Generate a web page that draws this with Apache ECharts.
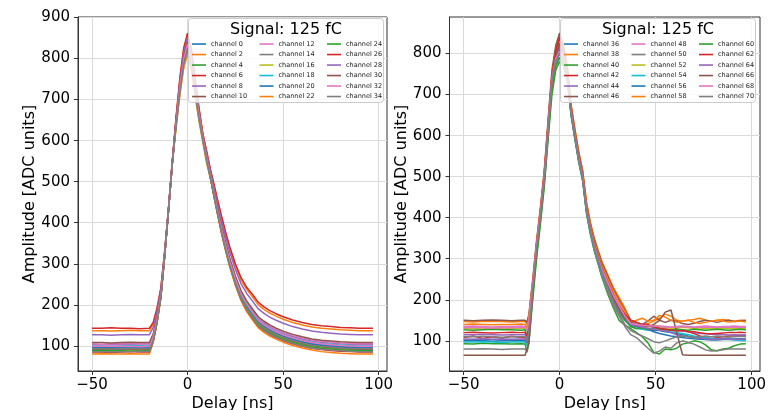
<!DOCTYPE html>
<html><head><meta charset="utf-8">
<script src="https://cdn.jsdelivr.net/npm/echarts@6/dist/echarts.min.js"></script>
<style>html,body{margin:0;padding:0;background:#fff}#c{width:775px;height:410px}</style>
</head><body><div id="c"></div>
<script>
// ---- data ----
const leftDelays = [-50,-45,-40,-35,-30,-25,-20,-18,-16,-14,-12,-10,-8,-6,-4,-2,0,2,4,6,8,10,12,14,16,18,20,22,25,28,31,34,37,40,43,46,50,55,60,65,70,75,80,85,90,97];
const rightDelays = [-50,-45,-40,-35,-30,-25,-20,-18,-17,-16,-14,-12,-10,-8,-6,-4,-2,0,2,4,6,8,10,12,14,16,18,20,22,25,28,31,34,37,40,43,46,49,52,55,58,61,64,67,70,73,76,79,82,85,88,91,94,97];
const xTicks = [-50,0,50,100];
const leftYTicks = [100,200,300,400,500,600,700,800,900];
const rightYTicks = [100,200,300,400,500,600,700,800];
const legendTitle = 'Signal: 125 fC';

const ch0 = [95,96,95,95,94,95,95,119,163,222,321,430,545,650,740,810,845,805,735,668,610,559,512,465,421,378,340,304,259,222,197,177,158,147,138,131,123,115,109,104,101,99,97,96,95,95];
const ch2 = [80,81,80,80,81,80,80,108,154,217,318,429,544,632,712,777,810,772,707,647,596,544,506,458,412,368,329,293,247,210,183,163,144,133,124,117,109,101,95,90,86,84,82,81,80,80];
const ch4 = [90,90,91,90,90,89,90,115,160,220,320,430,545,645,732,800,835,795,727,662,606,555,510,463,418,375,336,300,255,218,192,172,153,142,133,126,118,110,104,99,96,94,92,91,90,90];
const ch6 = [85,85,84,85,86,85,85,111,157,218,319,430,544,652,744,815,850,810,739,671,612,558,508,460,415,371,332,296,251,213,187,167,148,137,128,121,113,105,99,94,91,89,87,86,85,85];
const ch8 = [103,103,104,103,103,102,103,125,168,225,323,431,546,648,736,805,840,800,731,665,608,559,515,470,426,384,346,310,266,230,204,185,166,155,146,139,131,123,117,112,109,107,105,104,103,103];
const ch10 = [92,92,93,92,91,92,92,117,161,221,320,430,545,642,728,796,830,791,723,659,604,554,511,464,419,376,338,302,257,220,194,174,155,144,135,128,120,112,106,101,98,96,94,93,92,92];
const ch12 = [105,104,105,106,105,105,105,127,169,226,323,432,547,650,740,810,845,805,735,668,610,561,515,471,427,386,347,312,268,232,206,187,168,157,148,141,133,125,119,114,111,109,107,106,105,105];
const ch14 = [93,93,92,93,93,94,93,117,162,221,321,430,545,640,724,791,825,786,719,656,602,553,511,465,420,377,338,302,258,221,195,175,156,145,136,129,121,113,107,102,99,97,95,94,93,93];
const ch16 = [88,88,87,88,88,89,88,113,159,219,320,430,545,635,716,782,815,777,711,650,598,549,509,462,417,374,334,298,253,216,190,170,151,140,131,124,116,108,102,97,94,92,90,89,88,88];
const ch18 = [100,100,99,100,101,100,100,123,166,224,322,431,546,645,732,800,835,795,727,662,606,557,514,468,424,382,343,308,263,227,202,182,163,152,143,136,128,120,114,109,106,104,102,101,100,100];
const ch20 = [97,97,98,97,97,96,97,121,164,223,321,431,546,648,736,805,840,800,731,665,608,558,512,467,422,380,341,306,261,224,199,179,160,149,140,133,125,117,111,106,103,101,99,98,97,97];
const ch22 = [137,137,136,137,138,137,137,153,188,239,329,435,550,658,752,824,860,819,747,677,616,572,526,487,446,408,371,338,295,260,237,219,200,189,180,173,165,157,151,146,143,141,139,138,137,137];
const ch24 = [88,89,88,88,87,88,88,113,159,219,320,430,545,642,728,796,830,791,723,659,604,553,509,462,417,374,334,298,253,216,190,170,151,140,131,124,116,108,102,97,94,92,90,89,88,88];
const ch26 = [143,143,144,143,143,142,143,157,192,241,331,435,550,658,754,826,862,821,749,678,617,574,529,490,450,412,376,342,300,266,242,225,206,195,186,179,171,163,157,152,149,147,145,144,143,143];
const ch28 = [127,127,126,127,128,127,127,145,182,235,327,434,549,652,744,815,850,810,739,671,612,567,523,481,440,401,364,330,286,251,227,209,190,179,170,163,155,147,141,136,133,131,129,128,127,127];
const ch30 = [108,108,107,108,109,108,108,129,171,227,324,432,547,648,736,805,840,800,731,665,608,560,516,472,429,388,350,314,270,234,209,190,171,160,151,144,136,128,122,117,114,112,110,109,108,108];
const ch32 = [99,99,100,99,99,98,99,122,165,224,322,431,546,645,732,800,835,795,727,662,606,557,513,468,423,381,343,307,263,226,201,181,162,151,142,135,127,119,113,108,105,103,101,100,99,99];
const ch34 = [86,86,85,86,86,87,86,112,158,218,319,430,545,638,720,786,820,781,715,653,600,550,509,461,416,372,333,297,252,214,188,168,149,138,129,122,114,106,100,95,92,90,88,87,86,86];

const ch36 = [100,101,100,99,100,101,100,100,95,120,225,325,405,495,615,735,780,800,785,745,655,595,540,495,418,368,328,298,268,232,198,172,152,140,135,130,128,126,125,122,120,118,115,112,110,108,106,105,104,105,104,104,105,104];
const ch38 = [147,146,148,147,147,146,147,147,140,160,245,340,420,510,630,750,810,845,820,770,675,615,560,515,438,390,352,322,294,262,230,205,180,150,145,140,142,148,155,165,160,150,148,150,152,155,150,148,150,152,150,148,150,149];
const ch40 = [93,92,94,93,93,92,93,92,72,95,200,300,385,475,590,700,760,780,770,735,650,590,535,490,410,360,320,288,255,215,180,150,138,130,120,110,95,72,68,80,78,82,92,95,100,98,90,78,76,80,82,88,92,93];
const ch42 = [108,112,106,110,107,111,108,108,100,128,232,332,412,502,622,742,800,835,805,758,662,602,548,502,422,372,332,302,272,238,205,180,160,145,138,135,140,132,128,130,126,128,125,122,118,112,108,105,108,110,112,112,113,112];
const ch44 = [115,115,116,115,114,115,115,115,108,130,230,330,410,500,620,740,795,820,800,755,660,600,545,500,420,370,330,300,270,236,202,178,158,145,140,138,135,133,132,130,128,126,124,122,120,118,117,116,115,115,114,115,114,115];
const ch46 = [150,149,150,151,150,149,150,150,145,165,250,345,425,515,640,760,820,850,815,765,672,612,558,512,435,385,348,318,290,258,225,200,175,150,145,140,148,160,150,145,150,148,142,140,143,147,150,148,145,148,150,147,149,150];
const ch48 = [135,136,135,134,135,135,136,135,128,150,238,335,412,502,622,740,790,810,795,752,660,600,546,500,422,373,334,304,276,244,212,186,160,140,138,136,135,137,136,135,134,135,136,135,134,135,136,135,134,135,135,136,135,135];
const ch50 = [80,80,81,80,79,80,80,80,75,100,215,315,398,488,605,725,770,790,775,735,648,590,535,490,412,362,322,290,258,220,185,160,135,115,108,95,82,70,75,85,82,95,100,96,92,85,78,75,76,78,80,80,80,80];
const ch52 = [130,130,129,130,131,130,130,130,124,145,235,333,412,502,622,742,795,815,800,755,662,602,548,502,422,372,333,303,274,242,210,185,160,140,136,132,134,138,135,132,130,131,133,132,130,129,130,131,130,130,131,130,130,130];
const ch54 = [97,97,98,97,96,97,97,97,88,112,222,322,403,493,612,732,780,800,785,743,655,595,540,495,416,366,326,296,266,230,196,170,150,135,130,128,126,130,128,125,122,120,118,115,112,110,108,106,105,104,103,102,101,100];
const ch56 = [103,103,102,103,104,103,103,103,96,118,226,326,406,496,617,737,788,810,792,748,658,598,543,498,419,369,329,299,269,233,199,173,152,138,135,132,128,122,118,115,112,110,108,106,105,104,103,102,102,103,104,104,105,104];
const ch58 = [140,141,140,139,140,140,141,140,132,155,242,338,418,508,628,748,805,830,810,762,668,608,554,508,430,380,342,312,284,252,220,195,172,145,150,155,148,150,162,158,150,145,148,150,145,142,145,148,150,148,146,147,148,146];
const ch60 = [127,126,127,128,127,127,126,127,110,125,210,310,392,482,600,715,770,790,778,740,652,594,540,495,416,366,328,298,268,232,198,172,150,135,130,132,128,130,128,127,126,128,127,126,128,127,126,127,128,127,126,127,128,127];
const ch62 = [120,121,120,119,120,121,120,120,112,135,236,336,416,506,626,746,805,840,810,760,665,605,550,505,425,375,336,306,277,245,212,186,165,150,145,140,138,135,130,128,126,124,125,123,122,120,118,117,118,119,120,120,121,120];
const ch64 = [104,104,105,104,103,104,104,104,97,120,227,327,407,497,618,738,792,815,796,750,659,599,544,499,420,370,330,300,270,234,200,175,155,140,136,133,130,128,126,124,120,115,112,110,108,106,105,104,104,105,104,103,104,104];
const ch66 = [65,65,65,65,65,65,65,65,65,95,220,320,402,492,612,735,795,825,800,755,662,602,548,502,424,374,336,306,277,240,205,178,155,145,140,138,135,140,150,170,175,120,66,65,65,65,65,65,65,65,65,65,65,65];
const ch68 = [132,133,132,131,132,132,133,132,125,147,236,334,411,501,620,738,788,805,792,750,659,599,545,499,421,372,333,303,275,243,211,185,160,142,140,138,137,136,135,134,133,134,135,134,133,134,133,134,133,134,133,133,134,133];
const ch70 = [110,110,111,110,109,110,110,110,100,122,224,324,404,494,614,734,782,800,785,745,655,595,540,495,417,367,327,297,267,228,192,165,140,125,118,112,105,98,95,100,105,110,112,110,108,110,112,110,111,110,109,110,111,110];

const leftNames = ['channel 0','channel 2','channel 4','channel 6','channel 8','channel 10','channel 12','channel 14','channel 16','channel 18','channel 20','channel 22','channel 24','channel 26','channel 28','channel 30','channel 32','channel 34'];
const leftData = [ch0,ch2,ch4,ch6,ch8,ch10,ch12,ch14,ch16,ch18,ch20,ch22,ch24,ch26,ch28,ch30,ch32,ch34];
const rightNames = ['channel 36','channel 38','channel 40','channel 42','channel 44','channel 46','channel 48','channel 50','channel 52','channel 54','channel 56','channel 58','channel 60','channel 62','channel 64','channel 66','channel 68','channel 70'];
const rightData = [ch36,ch38,ch40,ch42,ch44,ch46,ch48,ch50,ch52,ch54,ch56,ch58,ch60,ch62,ch64,ch66,ch68,ch70];

// ---- chart ----
const tab10 = ['#1f77b4','#ff7f0e','#2ca02c','#d62728','#9467bd','#8c564b','#e377c2','#7f7f7f','#bcbd22','#17becf'];
const FONT = 'DejaVu Sans';
const fmt = v => v < 0 ? '\u2212' + Math.abs(v) : String(v);
const pairs = (xs, ys) => xs.map((x, i) => [x, ys[i]]);

const series = [];
function addSeries(names, data, xs, idx) {
  names.forEach((n, i) => {
    const c = tab10[i % 10];
    series.push({
      name: n, type: 'line', xAxisIndex: idx, yAxisIndex: idx,
      data: pairs(xs, data[i]), showSymbol: false, symbol: 'none',
      lineStyle: { width: 1.5, color: c }, itemStyle: { color: c },
      animation: false, silent: true, z: 2
    });
  });
}
addSeries(leftNames, leftData, leftDelays, 0);
addSeries(rightNames, rightData, rightDelays, 1);

function xAx(gi) {
  return {
    type: 'value', gridIndex: gi, min: -57.35, max: 104.35,
    name: 'Delay [ns]', nameLocation: 'middle', nameGap: 25, nameMoveOverlap: false,
    nameTextStyle: { fontSize: 16, fontFamily: FONT, color: '#000' },
    axisLine: { show: true, onZero: false, lineStyle: { color: '#333', width: 1 } },
    axisTick: { show: true, length: 4, customValues: xTicks, lineStyle: { color: '#333' } },
    axisLabel: { customValues: xTicks, fontSize: 15, fontFamily: FONT, color: '#000', margin: 7, formatter: fmt },
    splitLine: { show: true, lineStyle: { color: '#dadada', width: 1 } }
  };
}
function yAx(gi, mn, mx, ticks) {
  return {
    type: 'value', gridIndex: gi, min: mn, max: mx,
    name: 'Amplitude [ADC units]', nameLocation: 'middle', nameGap: 40, nameMoveOverlap: false,
    nameTextStyle: { fontSize: 16, fontFamily: FONT, color: '#000' },
    axisLine: { show: true, onZero: false, lineStyle: { color: '#333', width: 1 } },
    axisTick: { show: true, length: 4, customValues: ticks, lineStyle: { color: '#333' } },
    axisLabel: { customValues: ticks, fontSize: 15, fontFamily: FONT, color: '#000', margin: 8, formatter: fmt },
    splitLine: { show: true, lineStyle: { color: '#dadada', width: 1 } }
  };
}
function leg(names, left, top) {
  return {
    data: names, left: left, top: top, orient: 'vertical', padding: 0,
    itemWidth: 14, itemHeight: 1.6, itemGap: 0, icon: 'rect', selectedMode: false,
    textStyle: { fontSize: 6.5, fontFamily: FONT, color: '#222', lineHeight: 10.5 }
  };
}
const legTop = 38.8;
const option = {
  animation: false,
  backgroundColor: '#fff',
  grid: [
    { left: 78, top: 17, width: 309, height: 354, containLabel: false, outerBoundsMode: 'none', show: true, borderColor: '#333', borderWidth: 1, backgroundColor: 'transparent' },
    { left: 449.5, top: 17, width: 310.5, height: 354, containLabel: false, outerBoundsMode: 'none', show: true, borderColor: '#333', borderWidth: 1, backgroundColor: 'transparent' }
  ],
  xAxis: [xAx(0), xAx(1)],
  yAxis: [yAx(0, 38.8, 901.2, leftYTicks), yAx(1, 26.5, 889, rightYTicks)],
  legend: [
    leg(leftNames.slice(0, 6), 192, legTop), leg(leftNames.slice(6, 12), 259.5, legTop), leg(leftNames.slice(12, 18), 327, legTop),
    leg(rightNames.slice(0, 6), 564, legTop), leg(rightNames.slice(6, 12), 631.5, legTop), leg(rightNames.slice(12, 18), 699, legTop)
  ],
  graphic: [
    { type: 'rect', z: 3, shape: { x: 188.5, y: 18.5, width: 195, height: 84, r: 3 }, style: { fill: 'rgba(255,255,255,0.8)', stroke: '#cccccc', lineWidth: 1 } },
    { type: 'text', z: 5, x: 286, y: 29.5, style: { text: legendTitle, font: '16px "DejaVu Sans"', fill: '#000', align: 'center', verticalAlign: 'middle' } },
    { type: 'rect', z: 3, shape: { x: 560.5, y: 18.5, width: 195, height: 84, r: 3 }, style: { fill: 'rgba(255,255,255,0.8)', stroke: '#cccccc', lineWidth: 1 } },
    { type: 'text', z: 5, x: 658, y: 29.5, style: { text: legendTitle, font: '16px "DejaVu Sans"', fill: '#000', align: 'center', verticalAlign: 'middle' } }
  ],
  series: series
};
const chart = echarts.init(document.getElementById('c'), null, { renderer: 'canvas' });
chart.setOption(option);
</script>
</body></html>
